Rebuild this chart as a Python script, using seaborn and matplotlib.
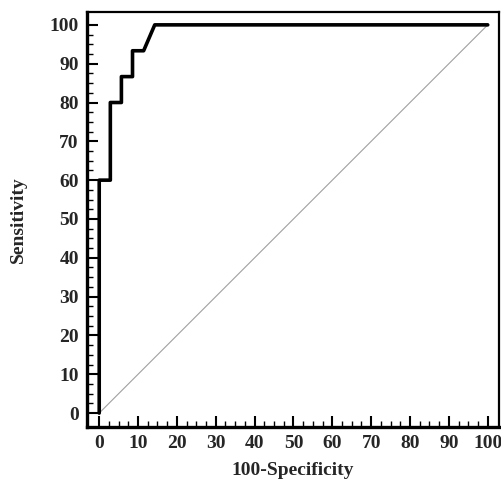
import matplotlib
matplotlib.use("Agg")
import matplotlib.pyplot as plt
from matplotlib.ticker import FixedLocator
import seaborn as sns
import pandas as pd
import numpy as np

# ROC curve data (100-Specificity, Sensitivity)
fpr = [0, 0, 2.86, 2.86, 5.71, 5.71, 8.57, 8.57, 11.43, 14.29, 100]
tpr = [0, 60, 60, 80, 80, 86.67, 86.67, 93.33, 93.33, 100, 100]
diag_x = [0, 100]
diag_y = [0, 100]
ticks = [0, 10, 20, 30, 40, 50, 60, 70, 80, 90, 100]

sns.set_theme(style="white")
plt.rcParams['font.family'] = ['Liberation Serif', 'DejaVu Serif']
plt.rcParams['font.weight'] = 'bold'

fig = plt.figure(figsize=(5.01, 4.82), dpi=100)
ax = fig.add_axes([0.174, 0.114, 0.822, 0.861])

df = pd.DataFrame({"x": fpr, "y": tpr})
dd = pd.DataFrame({"x": diag_x, "y": diag_y})
sns.lineplot(data=dd, x="x", y="y", ax=ax, color="#a0a0a0", linewidth=0.8,
             sort=False, estimator=None)
sns.lineplot(data=df, x="x", y="y", ax=ax, color="black", linewidth=2.6,
             sort=False, estimator=None)

ax.set_xlim(-3.1, 102.9)
ax.set_ylim(-3.6, 103.3)
ax.set_xticks(ticks)
ax.set_yticks(ticks)
minors = [m for m in np.arange(0, 100.1, 2.5) if m % 10 != 0]
ax.xaxis.set_minor_locator(FixedLocator(minors))
ax.yaxis.set_minor_locator(FixedLocator(minors))
ax.tick_params(which='major', direction='in', length=8, width=1.5,
               labelsize=14, color='black', left=True, bottom=True,
               top=False, right=False, pad=6)
ax.tick_params(which='minor', direction='in', length=4.5, width=1.0,
               color='black', left=True, bottom=True, top=False, right=False)
for lab in ax.get_xticklabels() + ax.get_yticklabels():
    lab.set_fontweight('bold')

for side in ['left', 'bottom']:
    ax.spines[side].set_linewidth(2.4)
    ax.spines[side].set_color('black')
for side in ['top', 'right']:
    ax.spines[side].set_linewidth(1.6)
    ax.spines[side].set_color('black')

ax.set_xlabel("100-Specificity", fontsize=14, fontweight='bold', labelpad=7)
ax.set_ylabel("Sensitivity", fontsize=14, fontweight='bold', labelpad=16)
ax.grid(False)

fig.savefig("out.png", dpi=100)
